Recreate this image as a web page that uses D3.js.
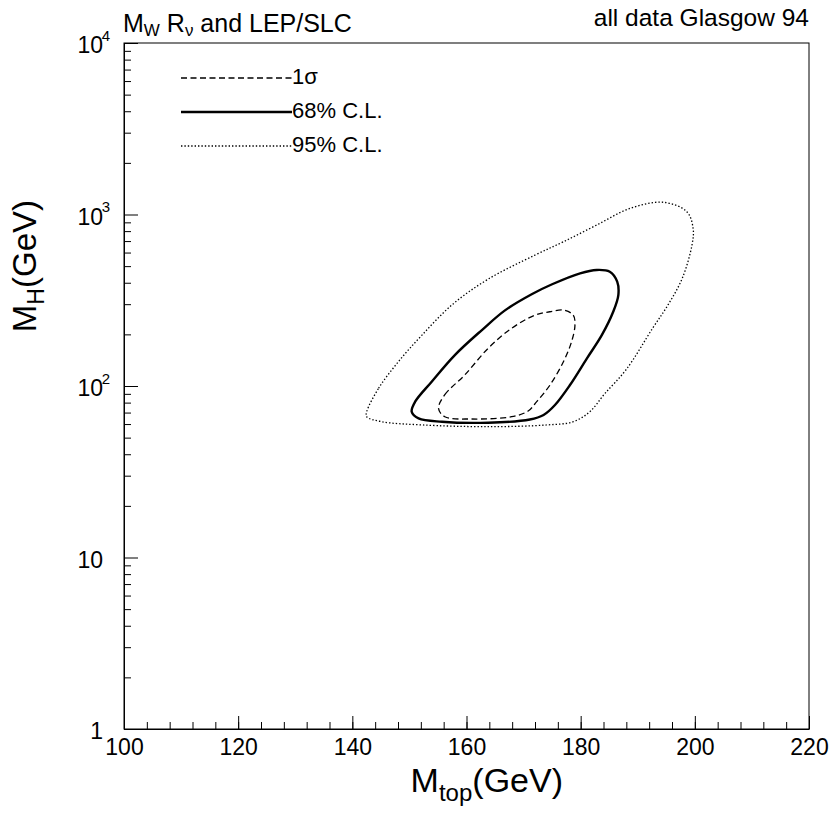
<!DOCTYPE html>
<html>
<head>
<meta charset="utf-8">
<title>M_H vs M_top</title>
<script src="https://cdn.jsdelivr.net/npm/d3@7/dist/d3.min.js"></script>
<style>
  body { margin: 0; background: #fff; }
  text { font-family: "Liberation Sans", Arial, Helvetica, sans-serif; fill: #000; }
</style>
</head>
<body>
<script>
// x axis: M_top (GeV), y axis: M_H (GeV) on log scale
var xMajor = [100, 120, 140, 160, 180, 200, 220];
var yMajor = [1, 10, 100, 1000, 10000];
var yLabelBase = ["1", "10", "10", "10", "10"];
var yLabelExp = ["", "", "2", "3", "4"];

// contours, [M_top, M_H]
var sigma1 = [[155.1,74],[156.2,89],[159.7,116],[163.8,166],[167.9,217],[172.0,259],[174.6,271],[177.0,277],
  [178.7,259],[179.0,227],[178.4,181],[177.0,139],[174.6,101],[172.3,81],[170.8,71.5],[167.9,66.2],
  [160.9,64.2],[156.2,66.2]];
var cl68 = [[150.4,70.8],[151.0,81],[153.9,106],[158.0,152],[162.7,212],[166.8,277],[171.5,344],[175.0,392],
  [179.9,454],[182.8,475],[185.1,464],[186.4,406],[186.6,339],[185.7,271],[183.7,198],[181.1,145],
  [178.1,101],[175.5,77.5],[173.5,67.8],[171.1,63.8],[163.8,61.1],[155.7,61.9],[151.6,64.8]];
var cl95 = [[142.5,70.5],[144.6,97],[148.1,139],[152.2,198],[157.6,300],[163.8,420],[172.0,580],[177.0,694],
  [182.8,868],[188.7,1087],[194.5,1178],[198.6,1038],[199.7,831],[199.5,664],[197.8,425],[195.3,297],
  [192.6,217],[188.0,125],[184.2,90],[181.6,70.8],[178.7,61.9],[174.1,59.3],[163.8,57.9],[152.2,59.3],
  [145.2,61.9],[142.5,66.2]];

var legendLabels = ["1σ", "68% C.L.", "95% C.L."];
var styles = [
  {width: 1.3, dash: "6,3.5"},
  {width: 2.4, dash: null},
  {width: 1.3, dash: "1.4,2"}
];

var width = 833, height = 815;
var pLeft = 124, pRight = 809, pTop = 43, pBottom = 729;

var svg = d3.select("body").append("svg")
  .attr("width", width)
  .attr("height", height);

var x = d3.scaleLinear().domain([100, 220]).range([pLeft, pRight]);
var y = d3.scaleLog().domain([1, 10000]).range([pBottom, pTop]);

// frame
svg.append("rect")
  .attr("x", pLeft).attr("y", pTop)
  .attr("width", pRight - pLeft).attr("height", pBottom - pTop)
  .attr("fill", "none").attr("stroke", "#000").attr("stroke-width", 1);

// x axis, minor ticks then major ticks with labels
var xMinor = d3.range(100, 221, 4);
svg.append("g")
  .attr("transform", "translate(0," + pBottom + ")")
  .call(d3.axisBottom(x).tickValues(xMinor).tickSize(-7).tickSizeOuter(0).tickFormat(""))
  .call(function(g){ g.select(".domain").remove(); });
svg.append("g")
  .attr("transform", "translate(0," + pBottom + ")")
  .call(d3.axisBottom(x).tickValues(xMajor).tickSize(-13).tickSizeOuter(0).tickPadding(10).tickFormat(d3.format("d")))
  .call(function(g){
    g.attr("font-family", null).attr("font-size", null);
    g.select(".domain").attr("stroke", "#000");
    g.selectAll("text").attr("font-size", 23);
  });

// y axis
var yMinor = [];
for (var dec = 1; dec < 10000; dec *= 10) {
  for (var k = 2; k <= 9; k++) yMinor.push(dec * k);
}
svg.append("g")
  .attr("transform", "translate(" + pLeft + ",0)")
  .call(d3.axisLeft(y).tickValues(yMinor).tickSize(-7).tickSizeOuter(0).tickFormat(""))
  .call(function(g){ g.select(".domain").remove(); });
var yAxis = svg.append("g")
  .attr("transform", "translate(" + pLeft + ",0)")
  .call(d3.axisLeft(y).tickValues(yMajor).tickSize(-14).tickSizeOuter(0).tickFormat(""));
yAxis.attr("font-family", null).attr("font-size", null);
yAxis.select(".domain").attr("stroke", "#000");
yAxis.selectAll(".tick text").remove();
yAxis.selectAll(".tick").each(function(d, i){
  var t = d3.select(this);
  t.append("text")
    .attr("x", -21).attr("y", 9.5)
    .attr("text-anchor", "end")
    .attr("font-size", 23)
    .text(yLabelBase[i]);
  if (yLabelExp[i]) {
    t.append("text")
      .attr("x", -14).attr("y", -3)
      .attr("font-size", 15)
      .text(yLabelExp[i]);
  }
});

// contours
var line = d3.line()
  .x(function(d){ return x(d[0]); })
  .y(function(d){ return y(d[1]); })
  .curve(d3.curveCatmullRomClosed.alpha(0.5));

[sigma1, cl68, cl95].forEach(function(c, i){
  svg.append("path")
    .attr("d", line(c))
    .attr("fill", "none")
    .attr("stroke", "#000")
    .attr("stroke-width", styles[i].width)
    .attr("stroke-dasharray", styles[i].dash);
});

// legend
var leg = svg.append("g");
legendLabels.forEach(function(lab, i){
  var ly = 78 + i * 34;
  leg.append("line")
    .attr("x1", 181).attr("x2", 292)
    .attr("y1", ly).attr("y2", ly)
    .attr("stroke", "#000")
    .attr("stroke-width", styles[i].width)
    .attr("stroke-dasharray", styles[i].dash);
  leg.append("text")
    .attr("x", 292).attr("y", ly + 6)
    .attr("font-size", 22)
    .text(lab);
});

// titles
var t1 = svg.append("text").attr("x", 123).attr("y", 32).attr("font-size", 25);
t1.append("tspan").text("M");
t1.append("tspan").attr("font-size", 17).attr("dy", 4).text("W");
t1.append("tspan").attr("dy", -4).text(" R");
t1.append("tspan").attr("font-size", 17).attr("dy", 4).text("ν");
t1.append("tspan").attr("dy", -4).text(" and LEP/SLC");

svg.append("text")
  .attr("x", 809).attr("y", 26)
  .attr("text-anchor", "end")
  .attr("font-size", 24.5)
  .text("all data Glasgow 94");

// axis titles
var xt = svg.append("text").attr("x", 563).attr("y", 792)
  .attr("text-anchor", "end").attr("font-size", 34);
xt.append("tspan").text("M");
xt.append("tspan").attr("font-size", 24).attr("dy", 9).text("top");
xt.append("tspan").attr("dy", -9).text("(GeV)");

var yt = svg.append("text")
  .attr("transform", "translate(36,200) rotate(-90)")
  .attr("text-anchor", "end").attr("font-size", 33);
yt.append("tspan").text("M");
yt.append("tspan").attr("font-size", 23).attr("dy", 8).text("H");
yt.append("tspan").attr("dy", -8).text("(GeV)");
</script>
</body>
</html>
